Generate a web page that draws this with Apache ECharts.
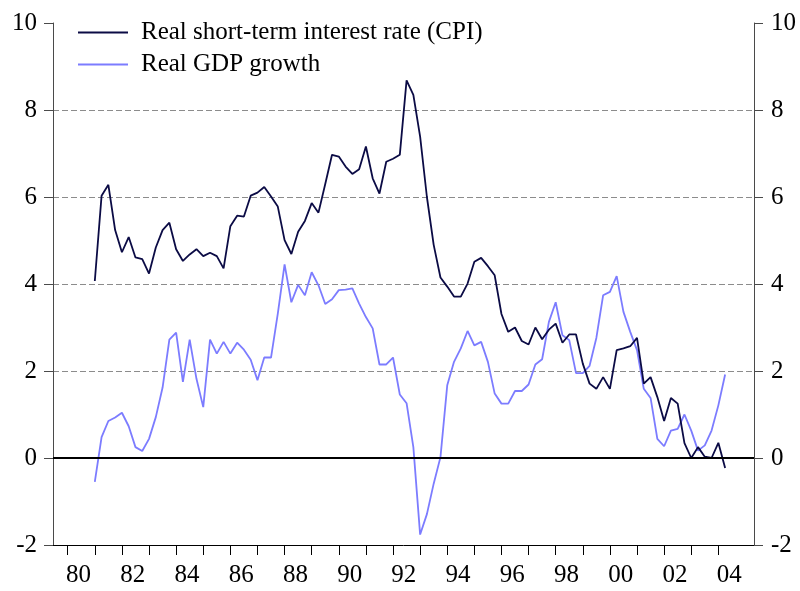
<!DOCTYPE html>
<html>
<head>
<meta charset="utf-8">
<script src="https://cdn.jsdelivr.net/npm/echarts@6/dist/echarts.min.js"></script>
<style>
  html, body { margin: 0; padding: 0; background: #ffffff; }
  #chart { width: 800px; height: 591px; }
</style>
</head>
<body>
<div id="chart"></div>
<script>
// Quarterly observations, 1981Q1 .. 2004Q2
const startYear = 1981;
const seriesNames = ['Real short-term interest rate (CPI)', 'Real GDP growth'];

const realRate = [
  4.07, 6.03, 6.28, 5.24, 4.73, 5.08, 4.61, 4.57, 4.24, 4.84,
  5.24, 5.41, 4.80, 4.53, 4.68, 4.80, 4.64, 4.72, 4.64, 4.36,
  5.33, 5.57, 5.55, 6.03, 6.10, 6.23, 6.01, 5.78, 5.01, 4.69,
  5.20, 5.45, 5.86, 5.64, 6.30, 6.97, 6.93, 6.70, 6.53, 6.64,
  7.16, 6.43, 6.08, 6.81, 6.88, 6.97, 8.68, 8.35, 7.39, 6.00,
  4.90, 4.15, 3.94, 3.71, 3.71, 4.01, 4.51, 4.60, 4.41, 4.20,
  3.31, 2.90, 3.00, 2.69, 2.61, 3.00, 2.73, 2.95, 3.09, 2.65,
  2.84, 2.84, 2.17, 1.71, 1.59, 1.86, 1.59, 2.48, 2.52, 2.57,
  2.76, 1.71, 1.86, 1.40, 0.85, 1.38, 1.25, 0.34, 0.00, 0.25,
  0.03, 0.00, 0.35, -0.23
];

const realGdp = [
  -0.55, 0.48, 0.85, 0.93, 1.04, 0.73, 0.25, 0.16, 0.44, 0.94,
  1.62, 2.72, 2.88, 1.75, 2.72, 1.82, 1.17, 2.72, 2.40, 2.67,
  2.40, 2.65, 2.49, 2.26, 1.79, 2.31, 2.31, 3.32, 4.45, 3.58,
  3.98, 3.74, 4.27, 3.97, 3.54, 3.65, 3.86, 3.87, 3.90, 3.55,
  3.24, 2.98, 2.15, 2.15, 2.31, 1.46, 1.26, 0.25, -1.76, -1.29,
  -0.59, 0.02, 1.67, 2.21, 2.52, 2.92, 2.59, 2.67, 2.21, 1.48,
  1.25, 1.25, 1.54, 1.54, 1.69, 2.15, 2.27, 3.13, 3.58, 2.82,
  2.71, 1.95, 1.95, 2.12, 2.76, 3.74, 3.82, 4.18, 3.36, 2.90,
  2.48, 1.59, 1.38, 0.44, 0.27, 0.63, 0.67, 1.00, 0.63, 0.17,
  0.29, 0.63, 1.21, 1.92
];

const yearTicks = [1980,1981,1982,1983,1984,1985,1986,1987,1988,1989,1990,1991,1992,
                   1993,1994,1995,1996,1997,1998,1999,2000,2001,2002,2003,2004];
const yearLabels = [1980,1982,1984,1986,1988,1990,1992,1994,1996,1998,2000,2002,2004];

// time position of each quarter (year + fraction)
const quarterTime = realRate.map((_, i) => startYear + i / 4);
const rateData = realRate.map((v, i) => [quarterTime[i], v]);
const gdpData = realGdp.map((v, i) => [quarterTime[i], v]);

const FONT = "'Liberation Serif', 'Times New Roman', serif";
const AXIS_COLOR = '#4a4a4a';
const RATE_COLOR = '#0b0b45';
const GDP_COLOR = '#7c7cff';

const chart = echarts.init(document.getElementById('chart'), null, { renderer: 'canvas' });

const yAxisCommon = {
  type: 'value',
  min: -2,
  max: 10,
  interval: 2,
  axisLine: { show: true, lineStyle: { color: AXIS_COLOR, width: 1 } },
  axisTick: { show: true, inside: false, length: 9, lineStyle: { color: AXIS_COLOR, width: 1 } },
  axisLabel: { fontFamily: FONT, fontSize: 25, color: '#000' }
};

chart.setOption({
  animation: false,
  backgroundColor: '#ffffff',
  grid: { left: 53, right: 46, top: 23, bottom: 46, containLabel: false },
  legend: {
    orient: 'vertical',
    left: 78,
    top: 20,
    padding: 0,
    itemWidth: 50,
    itemHeight: 2,
    itemGap: 7,
    icon: 'rect',
    data: seriesNames,
    textStyle: { fontFamily: FONT, fontSize: 25, color: '#000', padding: [0, 0, 0, 8] }
  },
  xAxis: {
    type: 'value',
    min: 1979.458,
    max: 2005.315,
    axisLine: { show: true, onZero: false, lineStyle: { color: '#000', width: 1 } },
    axisTick: { show: true, length: 10, customValues: yearTicks, lineStyle: { color: '#000', width: 1 } },
    axisLabel: {
      fontFamily: FONT, fontSize: 25, color: '#000', margin: 18,
      customValues: yearLabels.map(y => y + 0.4),
      formatter: v => String(Math.floor(v) % 100).padStart(2, '0')
    },
    splitLine: { show: false }
  },
  yAxis: [
    Object.assign({}, yAxisCommon, {
      position: 'left',
      axisLabel: Object.assign({}, yAxisCommon.axisLabel, { margin: 16 }),
      splitLine: {
        show: true,
        lineStyle: {
          type: [6, 3],
          width: 1,
          color: ['rgba(0,0,0,0)', 'rgba(0,0,0,0)', '#8c8c8c', '#8c8c8c', '#8c8c8c', '#8c8c8c', 'rgba(0,0,0,0)']
        }
      }
    }),
    Object.assign({}, yAxisCommon, {
      position: 'right',
      axisLabel: Object.assign({}, yAxisCommon.axisLabel, { margin: 17 }),
      splitLine: { show: false }
    })
  ],
  series: [
    {
      name: seriesNames[0],
      type: 'line',
      data: rateData,
      symbol: 'none',
      lineStyle: { color: RATE_COLOR, width: 1.8 },
      itemStyle: { color: RATE_COLOR },
      z: 4,
      markLine: {
        silent: true,
        symbol: 'none',
        label: { show: false },
        lineStyle: { color: '#000', type: 'solid', width: 2 },
        data: [{ yAxis: 0 }]
      }
    },
    {
      name: seriesNames[1],
      type: 'line',
      data: gdpData,
      symbol: 'none',
      lineStyle: { color: GDP_COLOR, width: 1.8 },
      itemStyle: { color: GDP_COLOR },
      z: 3
    }
  ]
});
</script>
</body>
</html>
